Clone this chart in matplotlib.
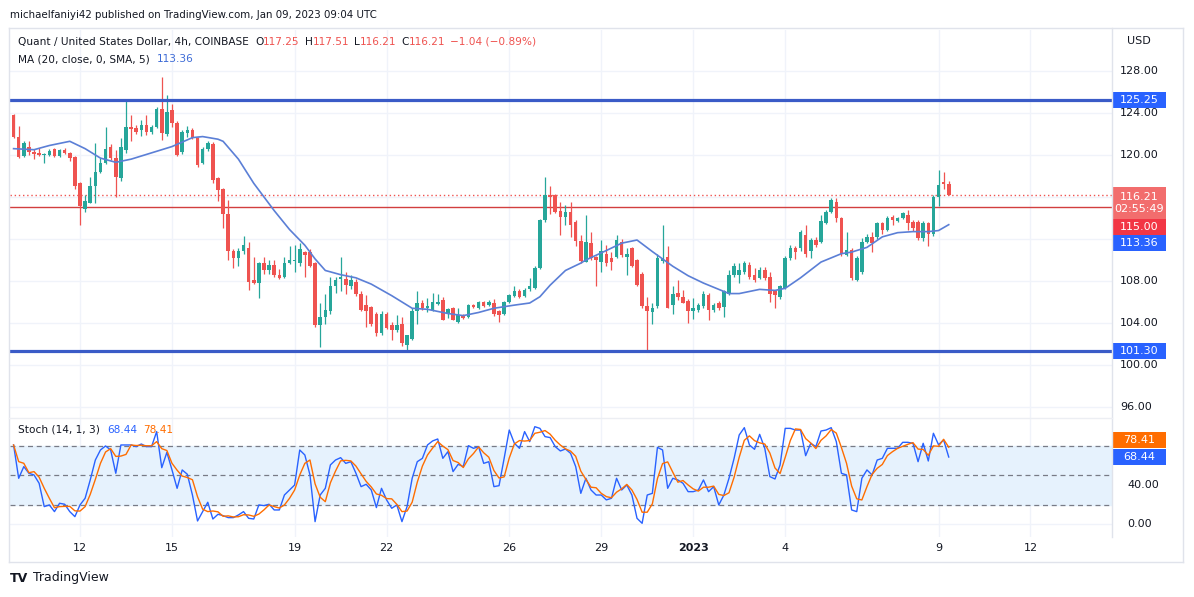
import numpy as np
import pandas as pd
import matplotlib
matplotlib.use("Agg")
import matplotlib.pyplot as plt
from matplotlib.patches import Rectangle
import matplotlib.transforms as mtrans

plt.rcParams['font.family'] = ['DejaVu Sans']

W, H = 1194, 597

# QNT / USD, 4h candles (Coinbase), first candle Dec 09 20:00
start = '2022-12-09 20:00'

opens = [123.8, 121.75, 119.9, 120.8, 120.3, 120.2, 119.95, 120.0, 120.6, 119.9,
         120.5, 120.2, 119.8, 117.3, 114.9, 115.4, 117.0, 118.4, 119.2, 120.8,
         119.7, 117.8, 120.5, 122.7, 122.6, 122.4, 122.9, 122.2, 122.7, 124.4,
         122.0, 124.3, 123.0, 120.3, 122.1, 122.4, 121.6, 119.2, 120.6, 121.0,
         117.8, 116.8, 114.4, 110.9, 110.2, 110.9, 111.1, 108.1, 107.8, 109.7,
         109.0, 109.5, 108.6, 108.4, 109.7, 109.9, 109.7, 110.8, 110.8, 109.7,
         103.8, 104.6, 105.1, 107.5, 108.2, 108.2, 107.5, 107.9, 106.8, 105.7,
         105.5, 104.9, 103.0, 104.9, 103.8, 103.3, 103.9, 101.9, 102.5, 105.1,
         105.9, 105.4, 105.2, 105.8, 106.2, 104.9, 105.4, 104.1, 104.8, 104.6,
         105.7, 105.4, 106.0, 105.7, 105.9, 105.1, 104.9, 106.0, 106.6, 107.0,
         106.6, 107.2, 107.3, 109.2, 113.8, 116.2, 116.2, 114.7, 114.1, 114.6,
         113.6, 111.8, 109.8, 111.6, 110.3, 109.8, 110.6, 110.15, 110.3, 111.7,
         110.3, 111.1, 110.0, 108.7, 105.6, 105.0, 105.6, 109.9, 110.3, 105.7,
         106.9, 106.5, 106.1, 105.1, 105.2, 105.6, 106.7, 105.2, 105.9, 105.55,
         106.8, 108.6, 108.6, 108.9, 109.5, 108.6, 108.3, 109.0, 108.4, 107.0,
         106.5, 107.3, 110.2, 111.1, 111.1, 112.4, 110.9, 111.9, 111.7, 113.5,
         114.6, 115.55, 113.95, 110.5, 110.95, 108.1, 108.9, 111.75, 112.2, 112.2,
         113.5, 112.9, 114.1, 113.7, 113.97, 114.3, 113.6, 113.6, 112.1, 113.5,
         112.5, 116.0, 117.4, 117.25]

highs = [123.9, 122.8, 121.3, 121.3, 120.6, 120.7, 120.2, 120.6, 120.7, 120.6,
         120.7, 120.3, 119.9, 117.4, 116.2, 117.9, 121.1, 119.7, 122.7, 121.0,
         120.5, 121.6, 125.1, 123.8, 122.9, 123.3, 123.8, 122.9, 124.6, 127.4,
         125.7, 124.9, 123.2, 122.4, 122.8, 122.6, 121.7, 120.8, 121.3, 121.2,
         117.9, 116.9, 115.7, 111.0, 111.1, 112.3, 111.7, 110.3, 109.8, 110.3,
         110.0, 110.0, 109.1, 110.3, 111.3, 111.4, 111.6, 110.9, 111.0, 109.8,
         105.9, 106.8, 108.4, 108.4, 110.3, 108.9, 108.6, 108.2, 107.0, 106.7,
         105.6, 105.0, 105.1, 105.0, 104.1, 104.8, 104.6, 102.9, 105.4, 107.0,
         106.2, 106.4, 106.9, 106.8, 106.5, 105.4, 105.5, 105.4, 104.9, 105.8,
         105.8, 106.1, 106.1, 106.2, 106.3, 105.2, 106.1, 106.8, 107.5, 107.2,
         107.3, 108.3, 109.4, 113.9, 117.9, 117.0, 116.3, 115.5, 115.2, 115.5,
         113.8, 112.4, 114.3, 112.7, 110.4, 111.9, 111.4, 110.8, 112.4, 112.0,
         111.1, 111.2, 110.1, 108.9, 106.5, 105.9, 110.6, 113.3, 111.3, 107.5,
         108.1, 107.1, 106.3, 106.35, 105.9, 107.0, 106.9, 105.9, 106.1, 107.1,
         109.0, 109.7, 109.7, 109.9, 109.8, 109.2, 109.3, 109.3, 108.9, 107.1,
         107.6, 110.4, 111.4, 111.3, 112.9, 113.3, 112.1, 112.2, 114.3, 114.8,
         115.9, 115.9, 114.1, 112.7, 111.1, 110.4, 112.1, 112.5, 112.7, 113.65,
         113.6, 114.2, 114.3, 114.1, 114.6, 114.8, 113.8, 113.8, 113.7, 113.6,
         116.2, 118.6, 118.4, 117.51]

lows = [121.6, 119.7, 119.8, 120.0, 119.6, 119.9, 119.2, 119.9, 119.8, 119.8,
        120.1, 119.4, 116.8, 113.3, 114.6, 115.4, 115.4, 118.3, 119.1, 119.5,
        116.0, 117.5, 120.2, 121.3, 122.0, 121.8, 121.9, 122.0, 122.6, 121.4,
        121.8, 122.7, 119.9, 120.1, 121.7, 121.5, 118.9, 119.1, 120.4, 117.3,
        115.6, 113.0, 110.0, 109.2, 109.4, 110.6, 107.1, 107.7, 106.4, 108.7,
        108.7, 108.4, 108.2, 108.3, 109.6, 108.9, 109.4, 108.4, 109.3, 103.6,
        101.7, 103.9, 104.9, 106.9, 107.0, 106.8, 107.2, 106.6, 105.1, 103.6,
        103.7, 102.8, 102.9, 103.4, 102.4, 103.1, 101.8, 101.3, 102.4, 103.9,
        105.2, 105.0, 105.1, 105.7, 104.3, 104.5, 104.3, 104.0, 104.4, 104.5,
        105.4, 105.3, 105.5, 105.6, 104.7, 104.1, 104.8, 105.9, 106.5, 106.4,
        106.5, 107.0, 107.2, 109.1, 113.6, 114.4, 114.5, 112.4, 113.3, 112.2,
        111.3, 109.7, 109.8, 110.0, 107.5, 108.9, 109.4, 109.05, 110.2, 110.3,
        108.6, 109.3, 107.5, 105.4, 101.4, 103.9, 105.4, 109.7, 105.4, 104.9,
        106.2, 105.9, 104.0, 104.4, 105.0, 105.4, 104.3, 105.0, 105.2, 104.6,
        106.7, 108.4, 107.8, 108.7, 108.2, 107.9, 108.2, 108.1, 106.0, 105.4,
        106.3, 107.2, 110.0, 110.1, 110.9, 110.3, 110.2, 111.2, 111.6, 113.4,
        114.5, 113.65, 110.4, 110.4, 108.1, 108.0, 108.7, 111.6, 110.8, 112.0,
        112.5, 112.8, 113.3, 113.6, 113.9, 112.9, 112.8, 111.9, 111.8, 111.3,
        112.3, 115.1, 116.8, 116.21]

closes = [121.75, 119.85, 121.1, 120.3, 120.1, 120.0, 120.1, 120.4, 119.9, 120.5,
          120.2, 119.7, 117.0, 115.1, 115.6, 117.0, 118.4, 119.2, 120.6, 119.7,
          117.9, 120.8, 122.7, 122.5, 122.2, 122.9, 122.2, 122.7, 124.4, 122.1,
          124.1, 123.0, 120.0, 122.2, 122.4, 121.6, 119.0, 120.6, 121.1, 117.6,
          116.7, 114.4, 110.9, 110.2, 110.9, 111.4, 107.9, 107.8, 109.7, 109.0,
          109.5, 108.6, 108.3, 109.7, 110.0, 110.0, 111.0, 110.5, 109.4, 103.8,
          104.6, 105.2, 107.5, 108.1, 108.4, 107.6, 108.1, 106.8, 105.2, 105.1,
          103.9, 103.0, 104.9, 103.5, 103.3, 103.8, 102.1, 102.9, 105.1, 105.9,
          105.4, 105.6, 106.0, 106.0, 104.3, 105.3, 104.3, 104.8, 104.5, 105.7,
          105.5, 106.0, 105.6, 106.0, 104.9, 104.8, 106.0, 106.7, 107.0, 106.5,
          107.1, 107.5, 109.2, 113.8, 116.2, 116.0, 114.6, 114.1, 114.6, 113.3,
          111.8, 109.9, 111.7, 110.2, 110.0, 110.9, 109.7, 109.85, 111.9, 110.5,
          110.6, 109.4, 107.6, 105.6, 105.1, 105.4, 110.2, 110.2, 105.4, 106.8,
          106.5, 105.9, 105.1, 105.4, 105.7, 106.8, 105.2, 105.7, 105.4, 107.0,
          108.6, 109.4, 109.0, 109.7, 108.4, 108.1, 109.0, 108.3, 106.8, 106.7,
          107.5, 110.2, 111.1, 110.8, 112.7, 110.6, 111.9, 111.4, 113.7, 114.6,
          115.7, 113.95, 110.6, 110.95, 108.25, 110.2, 111.75, 112.2, 111.6, 113.5,
          112.9, 114.0, 113.8, 113.97, 114.45, 113.5, 113.0, 112.1, 113.5, 112.5,
          116.0, 117.1, 117.25, 116.21]

# MA(20) at some candle indices
ma_at = [0, 4, 7, 11, 14, 17, 20, 23, 27, 31, 35, 37, 40, 41, 44, 47, 51, 54, 57, 59,
         61, 64, 67, 70, 74, 78, 81, 85, 88, 91, 94, 98, 101, 103, 105, 108, 111, 112,
         116, 119, 122, 125, 129, 132, 135, 140, 142, 146, 149, 151, 154, 158, 162, 164,
         167, 170, 173, 176, 179, 181, 183]
ma_val = [120.6, 120.5, 120.9, 121.3, 120.6, 119.7, 119.3, 119.6, 120.2, 120.8, 121.65,
          121.75, 121.5, 121.3, 119.6, 117.3, 114.7, 112.9, 111.4, 110.1, 109.0, 108.6,
          108.3, 107.7, 106.6, 105.4, 105.3, 104.9, 104.7, 105.0, 105.4, 105.7, 105.9,
          106.5, 107.6, 109.0, 109.7, 110.0, 110.9, 111.6, 111.9, 110.8, 109.4, 108.5,
          107.8, 106.8, 106.8, 107.2, 107.1, 107.3, 108.3, 109.8, 110.6, 110.75, 111.2,
          112.2, 112.6, 112.7, 112.7, 112.8, 113.36]

# Stoch %K (14, 1)
stoch_k = [80.7, 46.8, 58.7, 51.9, 50.2, 41.7, 18.0, 19.7, 12.9, 21.4,
           20.4, 12.9, 7.8, 19.7, 26.5, 45.1, 65.4, 75.6, 79.7, 75.6,
           51.9, 80.7, 80.7, 80.7, 79.0, 81.7, 79.0, 79.0, 94.3, 57.6,
           73.2, 55.3, 36.6, 55.3, 50.9, 29.8, 3.4, 12.9, 22.4, 5.4,
           10.2, 8.8, 6.8, 6.8, 9.5, 12.9, 6.1, 5.4, 19.7, 19.0,
           20.4, 14.6, 14.6, 29.8, 34.9, 40.0, 75.6, 70.5, 50.2, 2.7,
           29.8, 36.6, 60.4, 65.4, 67.8, 62.0, 63.7, 51.9, 38.3, 40.7,
           34.9, 17.0, 36.6, 24.8, 16.3, 19.7, 2.7, 18.0, 46.8, 63.7,
           67.1, 80.7, 84.8, 86.8, 67.1, 73.9, 53.6, 61.0, 58.7, 80.0,
           77.3, 79.0, 62.0, 63.7, 38.3, 39.3, 67.1, 95.9, 82.4, 77.3,
           94.3, 84.1, 99.3, 97.6, 89.2, 88.2, 79.0, 74.6, 76.6, 72.2,
           58.7, 31.5, 46.8, 34.9, 29.8, 29.8, 24.8, 26.5, 46.8, 34.9,
           40.0, 29.8, 6.1, 1.0, 29.8, 31.5, 78.3, 75.6, 36.6, 46.8,
           45.1, 41.7, 33.2, 33.2, 34.9, 45.1, 33.2, 38.3, 19.7, 29.8,
           46.8, 67.1, 90.9, 98.3, 80.7, 76.3, 91.5, 77.3, 48.5, 46.1,
           60.4, 97.6, 97.6, 95.9, 95.9, 69.8, 82.4, 79.0, 94.9, 95.9,
           98.3, 84.1, 51.9, 50.2, 14.6, 12.9, 46.8, 55.3, 50.2, 65.4,
           67.1, 77.3, 77.3, 77.3, 83.4, 83.4, 82.4, 63.7, 82.4, 64.4,
           92.6, 81.0, 85.8, 68.44]

resistance, support, mid_level = 125.25, 101.30, 115.00
price_ticks = [96, 100, 104, 108, 112, 116, 120, 124, 128]
price_shown = [96, 100, 104, 108, 120, 124, 128]
tick_dates = ['2022-12-12', '2022-12-15', '2022-12-19', '2022-12-22', '2022-12-26',
              '2022-12-29', '2023-01-01', '2023-01-04', '2023-01-09', '2023-01-12']
tick_labels = ['12', '15', '19', '22', '26', '29', '2023', '4', '9', '12']

df = pd.DataFrame({'o': opens, 'h': highs, 'l': lows, 'c': closes})
x = np.arange(len(df))
tick_pos = (pd.to_datetime(tick_dates) - pd.Timestamp(start)) / pd.Timedelta('4h')
stoch_d = pd.Series(stoch_k).rolling(3, min_periods=1).mean()

UP, DOWN = '#26a69a', '#ef5350'
GRID = '#f0f3fa'
TXT = '#131722'

fig = plt.figure(figsize=(W / 100, H / 100), dpi=100)
fig.patch.set_facecolor('white')

# --- price panel ---
ax = fig.add_axes([10 / W, 1 - 418 / H, 1102 / W, 388 / H])
ax.set_xlim(-0.70, 214.95)
ax.set_ylim(94.95, 131.9)
ax.set_axis_off()
for p in price_ticks:
    ax.axhline(p, color=GRID, lw=1, zorder=0)
for t in tick_pos:
    ax.axvline(t, color=GRID, lw=1, zorder=0)

cols = np.where(df.c >= df.o, UP, DOWN)
ax.vlines(x, df.l, df.h, color=cols, lw=0.9, zorder=3)
body = np.maximum((df.c - df.o).abs(), 0.07)
ax.bar(x, body, bottom=np.minimum(df.o, df.c), width=0.7, color=cols, zorder=3)

ax.axhline(resistance, color='#3a5bc7', lw=2.3, zorder=4)
ax.axhline(support, color='#3a5bc7', lw=2.3, zorder=4)
ax.axhline(mid_level, color='#d23f3f', lw=1.0, zorder=2)
ax.axhline(closes[-1], color=DOWN, lw=1.0, ls=(0, (1, 2)), zorder=2)
ax.plot(ma_at, ma_val, color='#5b7fd6', lw=1.2, zorder=4)

# --- stoch panel ---
ax2 = fig.add_axes([10 / W, 1 - 537 / H, 1102 / W, 119 / H])
ax2.set_xlim(-0.70, 214.95)
ax2.set_ylim(-12.92, 108.14)
ax2.set_axis_off()
for t in tick_pos:
    ax2.axvline(t, color=GRID, lw=1, zorder=0)
ax2.axhline(0, color=GRID, lw=1, zorder=0)
ax2.axhspan(20, 80, color='#e6f2fd', zorder=0.5)
for lvl in (80, 50, 20):
    ax2.axhline(lvl, color='#787b86', lw=0.9, ls=(0, (4, 3)), zorder=1)
ax2.plot(x, stoch_k, color='#2962ff', lw=1.0, zorder=3)
ax2.plot(x, stoch_d, color='#ff6d00', lw=1.0, zorder=3)

# date labels
tr = mtrans.blended_transform_factory(ax2.transData, fig.transFigure)
for t, lab in zip(tick_pos, tick_labels):
    ax2.text(t, 1 - 548 / H, lab, transform=tr, ha='center', va='center',
             fontsize=8, color=TXT, fontweight='bold' if lab == '2023' else 'normal',
             clip_on=False)

# frame lines
def fline(x0, y0, x1, y1, c='#e0e3eb'):
    fig.add_artist(plt.Line2D([x0 / W, x1 / W], [1 - y0 / H, 1 - y1 / H], color=c, lw=1))

fline(9, 28, 1183, 28)
fline(9, 562, 1183, 562)
fline(9, 28, 9, 562)
fline(1183, 28, 1183, 562)
fline(1112, 28, 1112, 537)
fline(9, 418, 1112, 418, '#eceef3')


def price_px(p):
    return 30 + (131.9 - p) / (131.9 - 94.95) * 388


def stoch_px(v):
    return 418 + (108.14 - v) / (108.14 + 12.92) * 119


# right axis labels
for p in price_shown:
    fig.text(1120 / W, 1 - price_px(p) / H, f'{p:.2f}', fontsize=8, color=TXT,
             ha='left', va='center')
fig.text(1127 / W, 1 - 41 / H, 'USD', fontsize=8, color=TXT, ha='left', va='center')
for v in (40, 0):
    fig.text(1127 / W, 1 - stoch_px(v) / H, f'{v:.2f}', fontsize=8, color=TXT,
             ha='left', va='center')


def badge(yc, label, color, h=16, w=53, x0=1113):
    fig.add_artist(Rectangle((x0 / W, 1 - (yc + h / 2) / H), w / W, h / H,
                             transform=fig.transFigure, color=color, lw=0))
    fig.text((x0 + 26) / W, 1 - yc / H, label, fontsize=8, color='white',
             ha='center', va='center', linespacing=1.35)


badge(price_px(resistance), '125.25', '#2962ff')
badge(price_px(support), '101.30', '#2962ff')
badge(203, '116.21\n02:55:49', '#f26d6d', h=32)
badge(227, '115.00', '#f23645')
badge(243, '113.36', '#2962ff')
badge(440, '78.41', '#ff6d00')
badge(457, '68.44', '#2962ff')


# header texts
def text_run(x_px, y_px, parts, size=7.6):
    r = fig.canvas.get_renderer()
    xp = x_px
    for s, c, gap in parts:
        t = fig.text(xp / W, 1 - y_px / H, s, color=c, fontsize=size, ha='left', va='center')
        xp += t.get_window_extent(renderer=r).width + gap


red_txt = '#ef5350'
text_run(10, 15, [('michaelfaniyi42 published on TradingView.com, Jan 09, 2023 09:04 UTC', TXT, 0)], size=7.4)
text_run(18, 42, [('Quant / United States Dollar, 4h, COINBASE', TXT, 6),
                  ('O', TXT, 0), ('117.25', red_txt, 5),
                  ('H', TXT, 0), ('117.51', red_txt, 5),
                  ('L', TXT, 0), ('116.21', red_txt, 5),
                  ('C', TXT, 0), ('116.21', red_txt, 5),
                  ('\u22121.04 (\u22120.89%)', red_txt, 0)])
text_run(18, 59, [('MA (20, close, 0, SMA, 5)', TXT, 7), ('113.36', '#3d6bd6', 0)])
text_run(18, 430, [('Stoch (14, 1, 3)', TXT, 7), ('68.44', '#2962ff', 6), ('78.41', '#ff6d00', 0)])
fig.text(10 / W, 1 - 578 / H, 'TV', fontsize=9, fontweight='bold', color=TXT, ha='left', va='center')
fig.text(33 / W, 1 - 578 / H, 'TradingView', fontsize=9, color=TXT, ha='left', va='center')

fig.savefig('out.png', dpi=100)
